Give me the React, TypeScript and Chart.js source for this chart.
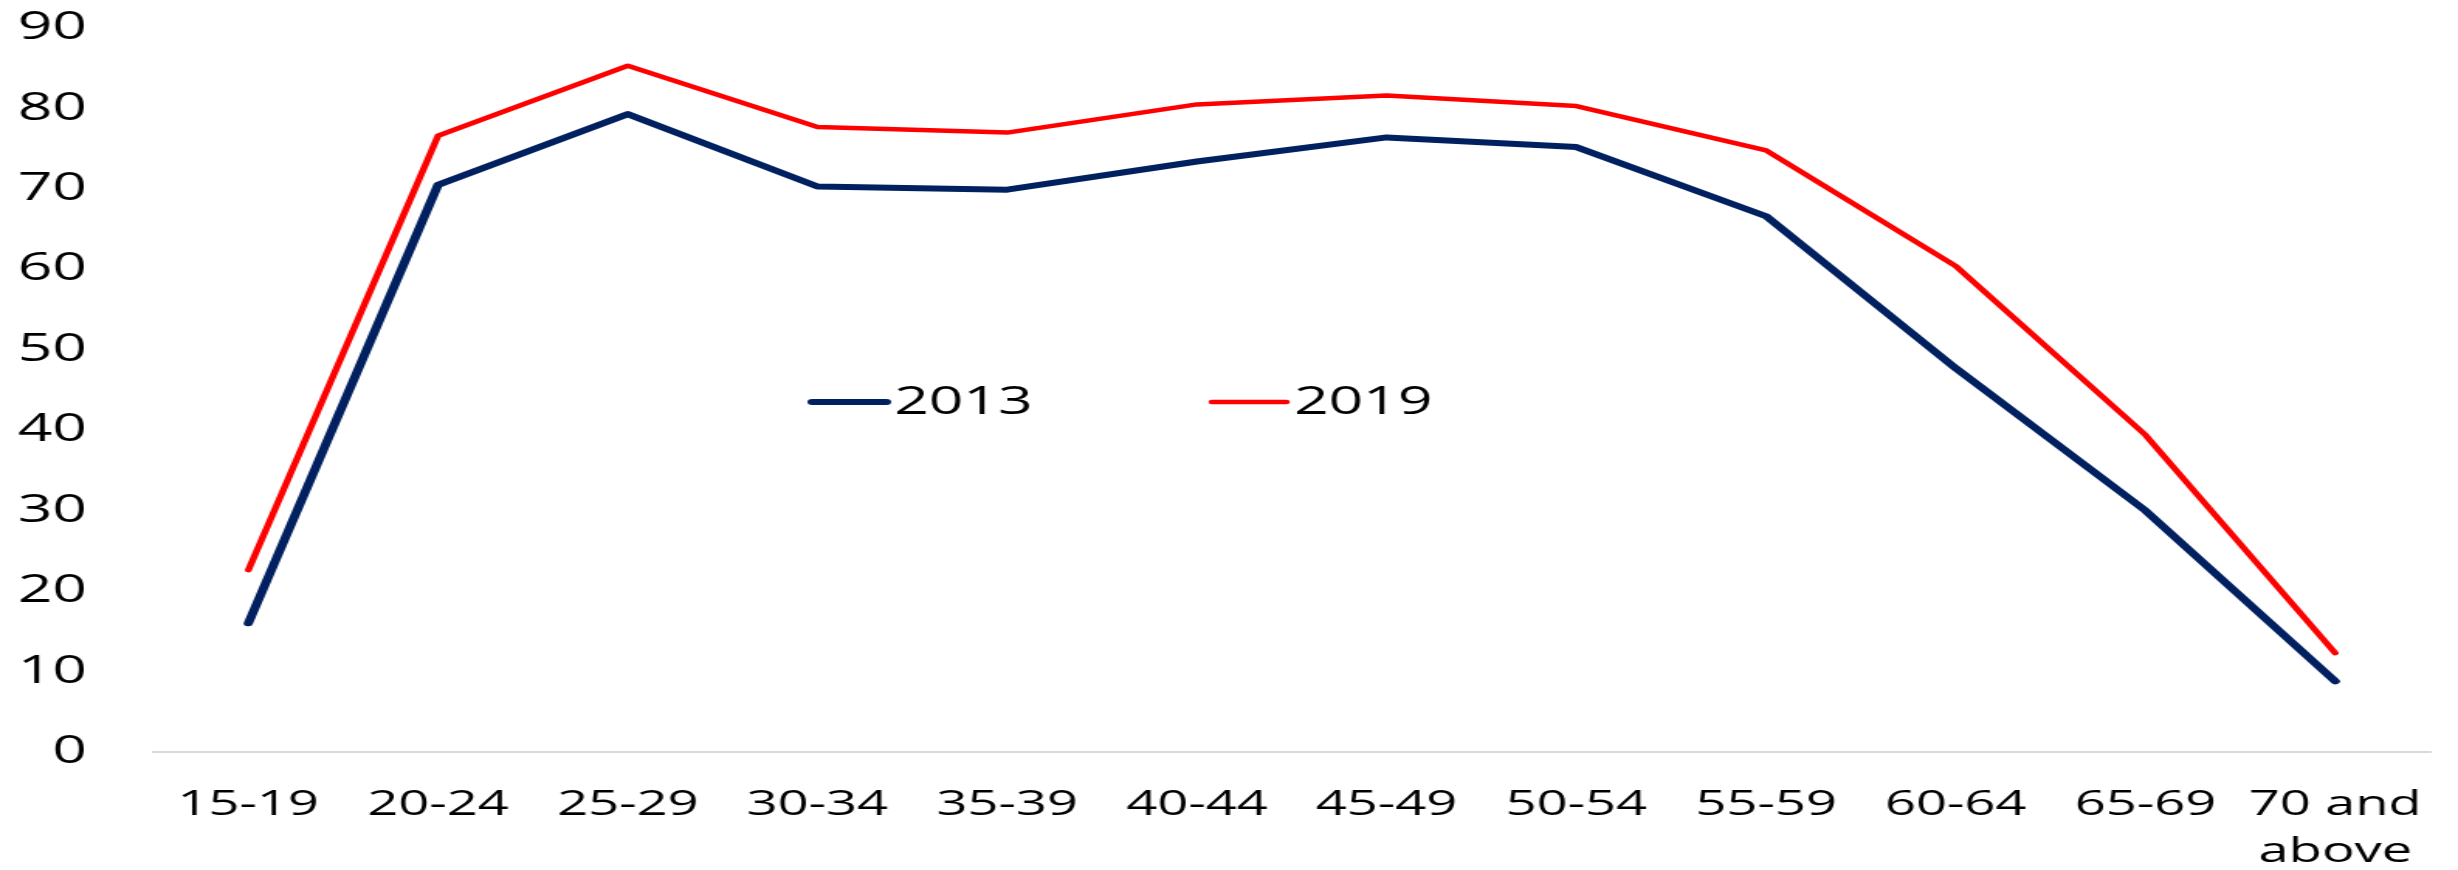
import React, { useEffect, useRef } from 'react';
import { Chart, registerables } from 'chart.js';

Chart.register(...registerables);

// ---- Data ----
const categories: (string | string[])[] = [
  '15-19', '20-24', '25-29', '30-34', '35-39', '40-44',
  '45-49', '50-54', '55-59', '60-64', '65-69', ['70 and', 'above'],
];
const seriesLabels = ['2013', '2019'];
const values2013 = [16.0, 70.5, 79.3, 70.3, 69.9, 73.4, 76.4, 75.2, 66.6, 47.7, 30.0, 8.8];
const values2019 = [22.6, 76.6, 85.3, 77.7, 77.0, 80.5, 81.6, 80.3, 74.8, 60.4, 39.4, 12.3];
const yMin = 0;
const yMax = 90;
const yStep = 10;

// ---- Styling ----
const COLORS = ['#002060', '#FF0000'];
const WIDTHS = [6, 4.5];
const FONT = "'Open Sans', 'Noto Sans', sans-serif";
const STRETCH = 1.55; // the reference is horizontally stretched
const OUT_W = 2458;
const OUT_H = 870;
const CANVAS_W = Math.round(OUT_W / STRETCH);

const insideLegend = {
  id: 'insideLegend',
  afterDraw(chart: any) {
    const { ctx, chartArea } = chart;
    const y = 402;
    const startX = chartArea.left + 425;
    const itemGap = 258;
    const sampleLen = 48;
    ctx.save();
    ctx.font = `39px ${FONT}`;
    ctx.textBaseline = 'middle';
    ctx.textAlign = 'left';
    chart.data.datasets.forEach((ds: any, i: number) => {
      const x = startX + i * itemGap;
      ctx.beginPath();
      ctx.lineCap = 'round';
      ctx.strokeStyle = ds.borderColor;
      ctx.lineWidth = ds.borderWidth;
      ctx.moveTo(x, y);
      ctx.lineTo(x + sampleLen, y);
      ctx.stroke();
      ctx.fillStyle = '#000';
      ctx.fillText(ds.label, x + sampleLen + 5, y + 1);
    });
    ctx.restore();
  },
};

export default function App() {
  const ref = useRef<HTMLCanvasElement>(null);
  useEffect(() => {
    document.body.style.margin = '0';
    const canvas = ref.current!;
    const chart = new Chart(canvas, {
      type: 'line',
      data: {
        labels: categories as any,
        datasets: [values2013, values2019].map((vals, i) => ({
          label: seriesLabels[i],
          data: vals,
          borderColor: COLORS[i],
          backgroundColor: COLORS[i],
          borderWidth: WIDTHS[i],
          pointRadius: 0,
          pointHoverRadius: 0,
          borderCapStyle: 'round' as const,
          borderJoinStyle: 'round' as const,
          tension: 0,
          fill: false,
        })),
      },
      options: {
        responsive: false,
        animation: false,
        devicePixelRatio: 1,
        layout: { padding: { top: 28, right: 18, bottom: 0, left: 0 } },
        plugins: {
          legend: { display: false },
          tooltip: { enabled: false },
          title: { display: false },
        },
        scales: {
          x: {
            type: 'category',
            offset: true,
            grid: { display: false, drawTicks: false },
            border: { display: true, color: '#D9D9D9', width: 2 },
            ticks: {
              color: '#000',
              font: { family: FONT, size: 35, lineHeight: 1.33 },
              padding: 30,
              maxRotation: 0,
              autoSkip: false,
            },
            afterFit: (scale: any) => {
              scale.height = 118;
              scale.paddingLeft = 0;
              scale.paddingRight = 0;
            },
          },
          y: {
            min: yMin,
            max: yMax,
            grid: { display: false, drawTicks: false },
            border: { display: false },
            ticks: {
              stepSize: yStep,
              color: '#000',
              font: { family: FONT, size: 39 },
              padding: 43,
            },
            afterFit: (scale: any) => {
              scale.width = 99;
              scale.paddingTop = 0;
              scale.paddingBottom = 0;
            },
          },
        },
      },
      plugins: [insideLegend],
    });
    return () => chart.destroy();
  }, []);

  return (
    <canvas
      ref={ref}
      width={CANVAS_W}
      height={OUT_H}
      style={{ display: 'block', width: `${OUT_W}px`, height: `${OUT_H}px` }}
    />
  );
}
